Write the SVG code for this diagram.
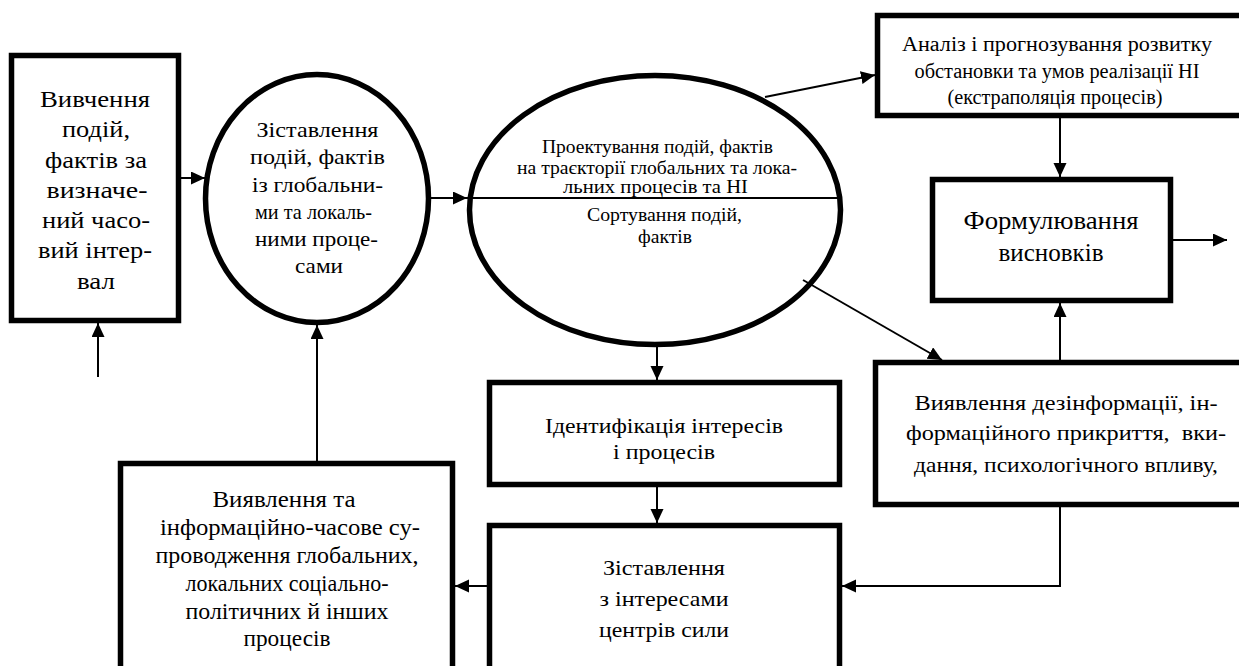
<svg xmlns="http://www.w3.org/2000/svg" width="1239" height="666" viewBox="0 0 1239 666">
<style>
.box{fill:#fff;stroke:#000;stroke-width:5.5}
.con{fill:none;stroke:#000;stroke-width:2}
text{font-family:"Liberation Serif","Times New Roman",serif;fill:#000;text-anchor:middle}
.s1{font-size:24px}
.s2{font-size:22px}
.s3{font-size:18px}
.s4{font-size:20px}
.s5{font-size:26px}
.s6{font-size:21px}
.s7{font-size:23px}
</style>
<defs>
<marker id="ah" markerUnits="userSpaceOnUse" markerWidth="15" markerHeight="14" refX="14" refY="6.5" orient="auto">
<path d="M0,0 L14,6.5 L0,13 z" fill="#000"/>
</marker>
</defs>
<rect width="1239" height="666" fill="#fff"/>

<g id="node-study">
<rect class="box" x="11.5" y="55.5" width="167" height="265"/>
<text class="s1" x="95" y="107" textLength="110" lengthAdjust="spacingAndGlyphs">Вивчення</text>
<text class="s1" x="96" y="137" textLength="68" lengthAdjust="spacingAndGlyphs">подій,</text>
<text class="s1" x="96" y="168" textLength="102" lengthAdjust="spacingAndGlyphs">фактів за</text>
<text class="s1" x="97" y="198" textLength="101" lengthAdjust="spacingAndGlyphs">визначе-</text>
<text class="s1" x="96" y="228" textLength="108" lengthAdjust="spacingAndGlyphs">ний часо-</text>
<text class="s1" x="95" y="258" textLength="114" lengthAdjust="spacingAndGlyphs">вий інтер-</text>
<text class="s1" x="96" y="289" textLength="38" lengthAdjust="spacingAndGlyphs">вал</text>
</g>

<g id="node-compare-processes">
<ellipse class="box" cx="317" cy="198.5" rx="111.5" ry="124"/>
<text class="s2" x="317.5" y="137" textLength="122" lengthAdjust="spacingAndGlyphs">Зіставлення</text>
<text class="s2" x="317.5" y="164" textLength="135" lengthAdjust="spacingAndGlyphs">подій, фактів</text>
<text class="s2" x="317.5" y="192" textLength="131" lengthAdjust="spacingAndGlyphs">із глобальни-</text>
<text class="s2" x="313.5" y="219" textLength="117" lengthAdjust="spacingAndGlyphs">ми та локаль-</text>
<text class="s2" x="316.5" y="246" textLength="123" lengthAdjust="spacingAndGlyphs">ними проце-</text>
<text class="s2" x="319" y="273" textLength="48" lengthAdjust="spacingAndGlyphs">сами</text>
</g>

<g id="node-projection">
<ellipse class="box" cx="655" cy="210" rx="185.5" ry="134.5"/>
<line x1="467" y1="198" x2="838" y2="198" stroke="#000" stroke-width="2"/>
<text class="s3" x="657.5" y="153" textLength="231" lengthAdjust="spacingAndGlyphs">Проектування подій, фактів</text>
<text class="s3" x="657" y="174" textLength="280" lengthAdjust="spacingAndGlyphs">на траєкторії глобальних та лока-</text>
<text class="s3" x="655.5" y="193" textLength="185" lengthAdjust="spacingAndGlyphs">льних процесів та НІ</text>
<text class="s3" x="664.5" y="221" textLength="155" lengthAdjust="spacingAndGlyphs">Сортування подій,</text>
<text class="s3" x="665" y="243" textLength="54" lengthAdjust="spacingAndGlyphs">фактів</text>
</g>

<g id="node-analysis">
<rect class="box" x="877.5" y="15.5" width="400" height="100"/>
<text class="s4" x="1057" y="51" textLength="310" lengthAdjust="spacingAndGlyphs">Аналіз і прогнозування розвитку</text>
<text class="s4" x="1057" y="78" textLength="285" lengthAdjust="spacingAndGlyphs">обстановки та умов реалізації НІ</text>
<text class="s4" x="1055" y="104" textLength="215" lengthAdjust="spacingAndGlyphs">(екстраполяція процесів)</text>
</g>

<g id="node-conclusions">
<rect class="box" x="932.5" y="179.5" width="238" height="121"/>
<text class="s5" x="1051" y="229" textLength="175" lengthAdjust="spacingAndGlyphs">Формулювання</text>
<text class="s5" x="1051" y="261" textLength="105" lengthAdjust="spacingAndGlyphs">висновків</text>
</g>

<g id="node-disinformation">
<rect class="box" x="875.5" y="362.5" width="400" height="142"/>
<text class="s6" x="1066" y="410" textLength="303" lengthAdjust="spacingAndGlyphs">Виявлення дезінформації, ін-</text>
<text class="s6" x="1066" y="440" textLength="320" lengthAdjust="spacingAndGlyphs" xml:space="preserve">формаційного прикриття,  вки-</text>
<text class="s6" x="1066" y="472" textLength="304" lengthAdjust="spacingAndGlyphs">дання, психологічного впливу,</text>
</g>

<g id="node-identification">
<rect class="box" x="489.5" y="382.5" width="350" height="102"/>
<text class="s2" x="664" y="433" textLength="238" lengthAdjust="spacingAndGlyphs">Ідентифікація інтересів</text>
<text class="s2" x="664" y="459" textLength="102" lengthAdjust="spacingAndGlyphs">і процесів</text>
</g>

<g id="node-compare-interests">
<rect class="box" x="489.5" y="525.5" width="350" height="200"/>
<text class="s2" x="664" y="575" textLength="122" lengthAdjust="spacingAndGlyphs">Зіставлення</text>
<text class="s2" x="664" y="606" textLength="129" lengthAdjust="spacingAndGlyphs">з інтересами</text>
<text class="s2" x="664" y="637" textLength="130" lengthAdjust="spacingAndGlyphs">центрів сили</text>
</g>

<g id="node-tracking">
<rect class="box" x="120.5" y="463.5" width="332" height="250"/>
<text class="s7" x="284" y="507" textLength="143" lengthAdjust="spacingAndGlyphs">Виявлення та</text>
<text class="s7" x="290" y="535" textLength="260" lengthAdjust="spacingAndGlyphs">інформаційно-часове су-</text>
<text class="s7" x="287" y="563" textLength="263" lengthAdjust="spacingAndGlyphs">проводження глобальних,</text>
<text class="s7" x="287" y="591" textLength="203" lengthAdjust="spacingAndGlyphs">локальних соціально-</text>
<text class="s7" x="287" y="619" textLength="203" lengthAdjust="spacingAndGlyphs">політичних й інших</text>
<text class="s7" x="287" y="646" textLength="87" lengthAdjust="spacingAndGlyphs">процесів</text>
</g>

<g id="connectors">
<line class="con" x1="98" y1="377" x2="98" y2="323" marker-end="url(#ah)"/>
<line class="con" x1="181" y1="178" x2="205" y2="178" marker-end="url(#ah)"/>
<line class="con" x1="429" y1="198" x2="467" y2="198" marker-end="url(#ah)"/>
<line class="con" x1="317" y1="461" x2="317" y2="325" marker-end="url(#ah)"/>
<line class="con" x1="765" y1="97" x2="875" y2="75" marker-end="url(#ah)"/>
<line class="con" x1="803" y1="280" x2="942" y2="360" marker-end="url(#ah)"/>
<line class="con" x1="657" y1="347" x2="657" y2="380" marker-end="url(#ah)"/>
<line class="con" x1="657" y1="487" x2="657" y2="523" marker-end="url(#ah)"/>
<line class="con" x1="1060" y1="118" x2="1060" y2="177" marker-end="url(#ah)"/>
<line class="con" x1="1173" y1="240" x2="1227" y2="240" marker-end="url(#ah)"/>
<line class="con" x1="1060" y1="360" x2="1060" y2="303" marker-end="url(#ah)"/>
<polyline class="con" points="1060,507 1060,586 842,586" marker-end="url(#ah)"/>
<line class="con" x1="487" y1="586" x2="455" y2="586" marker-end="url(#ah)"/>
</g>
</svg>
